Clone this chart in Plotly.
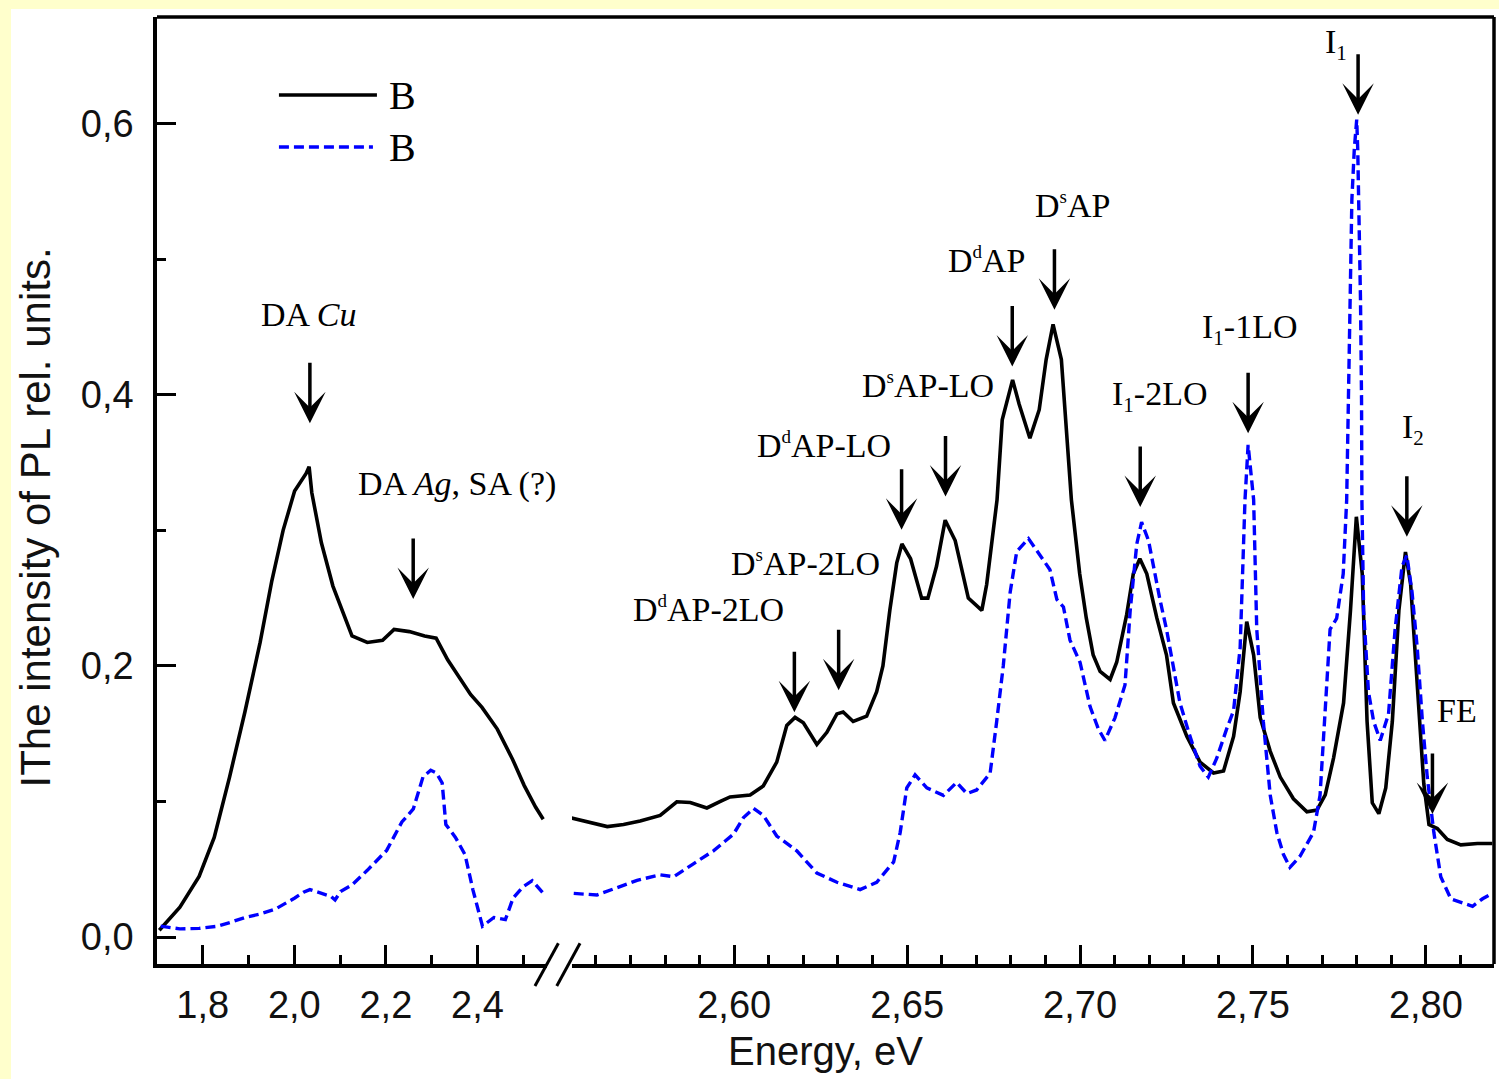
import plotly.graph_objects as go

# ---------------- data (Energy in eV, PL intensity in rel. units) ----------------
black_left_x = [1.705, 1.750, 1.792, 1.825, 1.8585, 1.892, 1.9253, 1.9504, 1.9755, 2.0006,
                2.0258, 2.0323, 2.0382, 2.0591, 2.0843, 2.1092, 2.126, 2.1594, 2.1928, 2.2179,
                2.2513, 2.2847, 2.3098, 2.335, 2.3598, 2.385, 2.41, 2.4434, 2.4769, 2.502,
                2.527, 2.5437]
black_left_y = [0.005, 0.022, 0.0447, 0.0735, 0.118, 0.166, 0.2173, 0.262, 0.300, 0.329,
                0.342, 0.347, 0.3277, 0.2908, 0.2589, 0.2365, 0.2221, 0.2173, 0.2189, 0.2269,
                0.2253, 0.2221, 0.2205, 0.2045, 0.1917, 0.179, 0.1694, 0.1534, 0.131, 0.1119,
                0.0959, 0.0869]

blue_left_x = [1.708, 1.750, 1.792, 1.833, 1.862, 1.892, 1.925, 1.959, 2.001, 2.020,
               2.034, 2.060, 2.080, 2.089, 2.101, 2.126, 2.160, 2.2017, 2.235, 2.260,
               2.281, 2.298, 2.3105, 2.323, 2.331, 2.352, 2.373, 2.390, 2.411, 2.436,
               2.461, 2.478, 2.499, 2.5197, 2.5446]
blue_left_y = [0.008, 0.006, 0.0064, 0.008, 0.011, 0.0144, 0.017, 0.0207, 0.0288, 0.033,
               0.035, 0.032, 0.030, 0.0273, 0.0336, 0.0384, 0.0494, 0.0639, 0.0849, 0.0945,
               0.118, 0.123, 0.121, 0.1136, 0.083, 0.0735, 0.0607, 0.035, 0.008, 0.0144,
               0.0128, 0.0288, 0.0369, 0.0416, 0.032]

black_right_x = [2.5526, 2.5580, 2.5633, 2.5680, 2.5728, 2.5786, 2.5834, 2.5873, 2.5921, 2.5960,
                 2.5988, 2.6046, 2.6084, 2.6123, 2.6152, 2.6176, 2.6200, 2.6239, 2.6268, 2.6297,
                 2.6315, 2.6344, 2.6383, 2.6412, 2.6430, 2.6450, 2.6470, 2.6485, 2.6510, 2.6542,
                 2.6560, 2.6585, 2.6610, 2.6639, 2.6677, 2.6716, 2.6730, 2.6760, 2.6775, 2.6805,
                 2.6824, 2.6855, 2.6882, 2.6902, 2.6922, 2.6946, 2.6975, 2.6999, 2.7018, 2.7038,
                 2.7058, 2.7087, 2.7106, 2.7135, 2.7154, 2.7173, 2.7193, 2.7222, 2.7250, 2.7270,
                 2.7309, 2.7347, 2.7386, 2.7415, 2.7444, 2.7463, 2.7482, 2.7502, 2.7521, 2.7550,
                 2.7579, 2.7617, 2.7656, 2.7685, 2.7709, 2.7733, 2.7762, 2.7782, 2.7799, 2.7816,
                 2.7830, 2.7845, 2.7864, 2.7884, 2.7903, 2.7922, 2.7941, 2.7956, 2.7975, 2.7994,
                 2.8009, 2.8033, 2.8062, 2.8101, 2.8149, 2.8192]
black_right_y = [0.088, 0.085, 0.0815, 0.083, 0.0856, 0.0897, 0.0998, 0.0992, 0.0952, 0.100,
                 0.1033, 0.1048, 0.1114, 0.129, 0.156, 0.162, 0.158, 0.142, 0.151, 0.1646,
                 0.166, 0.159, 0.163, 0.181, 0.200, 0.241, 0.276, 0.290, 0.279, 0.250,
                 0.250, 0.2735, 0.3075, 0.2925, 0.250, 0.241, 0.260, 0.3225, 0.3815, 0.411,
                 0.393, 0.368, 0.389, 0.426, 0.452, 0.426, 0.3225, 0.268, 0.2354, 0.208,
                 0.196, 0.190, 0.2027, 0.238, 0.268, 0.279, 0.268, 0.2354, 0.208, 0.1727,
                 0.148, 0.129, 0.121, 0.1225, 0.148, 0.181, 0.2326, 0.208, 0.1618, 0.137,
                 0.118, 0.102, 0.0924, 0.0937, 0.1048, 0.132, 0.1727, 0.241, 0.310, 0.268,
                 0.159, 0.099, 0.091, 0.110, 0.159, 0.241, 0.284, 0.260, 0.186, 0.113,
                 0.083, 0.080, 0.072, 0.068, 0.069, 0.069]

blue_right_x = [2.5536, 2.5603, 2.5661, 2.5719, 2.5786, 2.5825, 2.5882, 2.5940, 2.5998, 2.6027,
                2.6056, 2.6085, 2.6123, 2.6181, 2.6239, 2.6297, 2.6364, 2.6412, 2.6461, 2.6480,
                2.6499, 2.6523, 2.6557, 2.6605, 2.6643, 2.6673, 2.6701, 2.6740, 2.6759, 2.6778,
                2.6798, 2.6817, 2.6851, 2.6884, 2.6913, 2.6933, 2.6952, 2.6971, 2.7000, 2.7029,
                2.7053, 2.7072, 2.7101, 2.7130, 2.7145, 2.7164, 2.7178, 2.7198, 2.7212, 2.7231,
                2.7250, 2.7270, 2.7289, 2.7318, 2.7347, 2.7371, 2.7395, 2.7424, 2.7444, 2.7463,
                2.7477, 2.7486, 2.7502, 2.7511, 2.7530, 2.7550, 2.7569, 2.7588, 2.7607, 2.7636,
                2.7675, 2.7694, 2.7708, 2.7723, 2.7742, 2.7761, 2.7771, 2.7776, 2.7781, 2.7786,
                2.7793, 2.7800, 2.7803, 2.7806, 2.7811, 2.7814, 2.7815, 2.7820, 2.7834, 2.7849,
                2.7868, 2.7892, 2.7911, 2.7931, 2.7945, 2.7960, 2.7975, 2.7990, 2.8004, 2.8023,
                2.8043, 2.8072, 2.8101, 2.8135, 2.8164, 2.8192]
blue_right_y = [0.0322, 0.031, 0.0364, 0.0418, 0.0459, 0.0445, 0.054, 0.0636, 0.0759, 0.0881,
                0.095, 0.0895, 0.0745, 0.0636, 0.0472, 0.0404, 0.035, 0.0404, 0.0554, 0.0772,
                0.110, 0.1196, 0.110, 0.1045, 0.114, 0.1058, 0.1085, 0.1208, 0.159, 0.200,
                0.2544, 0.2844, 0.2939, 0.2816, 0.271, 0.249, 0.2435, 0.219, 0.2026, 0.170,
                0.1535, 0.145, 0.1617, 0.186, 0.2407, 0.2898, 0.306, 0.2925, 0.2734, 0.249,
                0.227, 0.200, 0.1726, 0.148, 0.126, 0.118, 0.1317, 0.1535, 0.167, 0.2135,
                0.3225, 0.363, 0.3225, 0.227, 0.159, 0.1045, 0.0772, 0.061, 0.0514, 0.0596,
                0.0772, 0.1045, 0.159, 0.227, 0.235, 0.268, 0.3225, 0.396, 0.470, 0.544,
                0.581, 0.603, 0.581, 0.544, 0.470, 0.396, 0.3225, 0.2407, 0.181, 0.159,
                0.145, 0.1645, 0.227, 0.2734, 0.2816, 0.2544, 0.2135, 0.159, 0.118, 0.0772,
                0.0445, 0.0282, 0.0255, 0.0227, 0.0282, 0.0322]

legend_names = ["B", "B"]

# arrows: (axis, energy of tip, intensity of tip)
arrow_axis = ["x", "x", "x2", "x2", "x2", "x2", "x2", "x2", "x2", "x2", "x2", "x2", "x2"]
arrow_x = [2.034, 2.2597, 2.6174, 2.6302, 2.6484, 2.6611, 2.6804, 2.6926, 2.7174, 2.7486,
           2.7804, 2.7945, 2.8019]
arrow_y = [0.379, 0.2493, 0.1658, 0.1821, 0.3004, 0.325, 0.4209, 0.4627, 0.3173, 0.3717,
           0.6066, 0.2953, 0.0908]

# peak labels: text, axis, position
SUP_D = "<sup><span style='font-size:19px'>d</span></sup>"
SUP_S = "<sup><span style='font-size:19px'>s</span></sup>"
SUB_1 = "<sub><span style='font-size:21px'>1</span></sub>"
SUB_2 = "<sub><span style='font-size:21px'>2</span></sub>"
label_text = ["DA <i>Cu</i>", "DA <i>Ag</i>, SA (?)", "D" + SUP_D + "AP-2LO", "D" + SUP_S + "AP-2LO",
              "D" + SUP_D + "AP-LO", "D" + SUP_S + "AP-LO", "D" + SUP_D + "AP", "D" + SUP_S + "AP",
              "I" + SUB_1 + "-2LO", "I" + SUB_1 + "-1LO", "I" + SUB_1, "I" + SUB_2, "FE"]
label_axis = ["x", "x", "x2", "x2", "x2", "x2", "x2", "x2", "x2", "x2", "x2", "x2", "x2"]
label_x = [2.0314, 2.3546, 2.5927, 2.6207, 2.626, 2.6561, 2.6732, 2.6978, 2.7229, 2.7489,
           2.7739, 2.7963, 2.8089]
label_y = [0.459, 0.3343, 0.2419, 0.2757, 0.3627, 0.407, 0.4997, 0.540, 0.399, 0.4487,
           0.659, 0.3746, 0.1672]

left_ticks = [1.8, 2.0, 2.2, 2.4]
right_ticks = [2.60, 2.65, 2.70, 2.75, 2.80]
y_ticks = [0.0, 0.2, 0.4, 0.6]

# ---------------- figure ----------------
BLUE = "#0000FF"
SANS = "Liberation Sans, Arial, sans-serif"
SERIF = "Liberation Serif, Times New Roman, serif"

fig = go.Figure()
fig.add_trace(go.Scatter(x=black_left_x, y=black_left_y, xaxis="x", yaxis="y", mode="lines",
                         name=legend_names[0], line=dict(color="black", width=3.6), showlegend=False))
fig.add_trace(go.Scatter(x=black_right_x, y=black_right_y, xaxis="x2", yaxis="y", mode="lines",
                         name=legend_names[0], line=dict(color="black", width=3.6), showlegend=False))
fig.add_trace(go.Scatter(x=blue_left_x, y=blue_left_y, xaxis="x", yaxis="y", mode="lines",
                         name=legend_names[1], line=dict(color=BLUE, width=3.4, dash="10px,5px"),
                         showlegend=False))
fig.add_trace(go.Scatter(x=blue_right_x, y=blue_right_y, xaxis="x2", yaxis="y", mode="lines",
                         name=legend_names[1], line=dict(color=BLUE, width=3.4, dash="10px,5px"),
                         showlegend=False))

axis_common = dict(showline=True, linecolor="black", linewidth=3.5, ticks="inside",
                   ticklen=19, tickwidth=3, tickcolor="black", showgrid=False, zeroline=False,
                   tickfont=dict(family=SANS, size=38, color="#111111"))

fig.update_layout(
    width=1499, height=1079,
    margin=dict(l=157, r=5, t=17, b=115),
    paper_bgcolor="#FFFFCC", plot_bgcolor="white",
    separators=", ",
    showlegend=False,
    xaxis=dict(domain=[0, 0.2917], range=[1.70, 2.552], anchor="y",
               tickvals=left_ticks, tickformat=".1f", ticklabelstandoff=5,
               minor=dict(dtick=0.1, tick0=1.8, ticks="inside", ticklen=9, tickwidth=3,
                          tickcolor="black"),
               **axis_common),
    xaxis2=dict(domain=[0.3104, 1], range=[2.5531, 2.8197], anchor="y",
                tickvals=right_ticks, tickformat=".2f", ticklabelstandoff=5,
                minor=dict(dtick=0.01, tick0=2.6, ticks="inside", ticklen=9, tickwidth=3,
                           tickcolor="black"),
                **axis_common),
    yaxis=dict(domain=[0, 1], range=[-0.0199, 0.6787], anchor="x",
               tickvals=y_ticks, tickformat=".1f", ticklabelstandoff=12,
               minor=dict(dtick=0.1, tick0=0, ticks="inside", ticklen=9, tickwidth=3,
                          tickcolor="black"),
               **axis_common),
)

shapes = []
# white page area (yellow strip only on top and left)
shapes.append(dict(type="rect", xref="paper", yref="paper", x0=-0.1092, x1=1.2, y0=-0.2,
                   y1=1.0084, fillcolor="white", line=dict(width=0), layer="below"))
# top and right frame lines
shapes.append(dict(type="line", xref="paper", yref="paper", x0=0, x1=1, y0=1, y1=1,
                   line=dict(color="black", width=3.5)))
shapes.append(dict(type="line", xref="paper", yref="paper", x0=1, x1=1, y0=0, y1=1,
                   line=dict(color="black", width=3.5)))
# axis break marks
for x0, x1 in [(0.2827, 0.3002), (0.2990, 0.3164)]:
    shapes.append(dict(type="line", xref="paper", yref="paper", x0=x0, x1=x1, y0=-0.0232,
                       y1=0.0219, line=dict(color="black", width=3)))
# legend lines
shapes.append(dict(type="line", xref="paper", yref="paper", x0=0.0912, x1=0.1645, y0=0.9176,
                   y1=0.9176, line=dict(color="black", width=3.6)))
shapes.append(dict(type="line", xref="paper", yref="paper", x0=0.0912, x1=0.1615, y0=0.8627,
                   y1=0.8627, line=dict(color=BLUE, width=3.6, dash="10px,5px")))
fig.update_layout(shapes=shapes)

ann = []
for ax_, xv, yv in zip(arrow_axis, arrow_x, arrow_y):
    ann.append(dict(x=xv, y=yv, xref=ax_, yref="y", text="", showarrow=True, ax=0, ay=-62,
                    arrowhead=3, arrowsize=1.5, arrowwidth=3.5, arrowcolor="black"))
for t, ax_, xv, yv in zip(label_text, label_axis, label_x, label_y):
    ann.append(dict(x=xv, y=yv, xref=ax_, yref="y", text=t, showarrow=False,
                    xanchor="center", yanchor="middle",
                    font=dict(family=SERIF, size=34, color="black")))
# legend texts
for name, yp in zip(legend_names, [0.9176, 0.8627]):
    ann.append(dict(x=0.172, y=yp, xref="paper", yref="paper", text=name, showarrow=False,
                    xanchor="left", yanchor="middle",
                    font=dict(family=SERIF, size=40, color="black")))
# axis titles
ann.append(dict(x=0.5002, y=-0.0915, xref="paper", yref="paper", text="Energy, eV",
                xanchor="center", yanchor="middle",
                showarrow=False, font=dict(family=SANS, size=40, color="#111111")))
ann.append(dict(x=-0.0909, y=0.472, xref="paper", yref="paper",
                text="IThe intensity of PL rel. units.", textangle=-90, showarrow=False,
                xanchor="center", yanchor="middle",
                font=dict(family=SANS, size=42, color="#111111")))
fig.update_layout(annotations=ann)

fig.write_html("out.html")
